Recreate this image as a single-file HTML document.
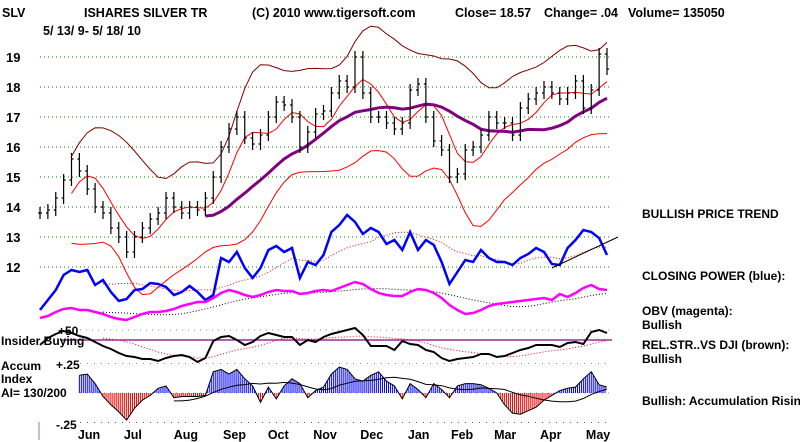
<!DOCTYPE html>
<html><head><meta charset="utf-8">
<style>
body{margin:0;background:#fff;width:800px;height:442px;overflow:hidden}
svg{display:block;font-family:"Liberation Sans",Arial,sans-serif;font-weight:bold}
</style></head><body>
<svg id="chart" width="800" height="442" viewBox="0 0 800 442">
<g font-size="12.5">
<text x="2" y="17">SLV</text>
<text x="84" y="17">ISHARES SILVER TR</text>
<text x="252" y="17">(C) 2010 www.tigersoft.com</text>
<text x="455" y="17">Close=  18.57</text>
<text x="544" y="17">Change= .04</text>
<text x="628" y="17">Volume= 135050</text>
<text x="43" y="35">5/ 13/ 9- 5/ 18/ 10</text>
</g>
<g id="grid"></g><g id="axes" font-size="13"></g>
<g id="marks"></g>
<g font-size="12">
<text x="1" y="345">Insider Buying</text>
<text x="58" y="335">+50</text>
<text x="1" y="370">Accum</text>
<text x="1" y="383">Index</text>
<text x="1" y="397">AI= 130/200</text>
<text x="56" y="369">+.25</text>
<text x="56" y="429">-.25</text>
</g>
<line x1="39" y1="422" x2="39" y2="440" stroke="#886" stroke-width="1"/>
<g font-size="12">
<text x="642" y="218">BULLISH PRICE TREND</text>
<text x="642" y="280">CLOSING POWER (blue):</text>
<text x="642" y="315">OBV (magenta):</text>
<text x="642" y="329">Bullish</text>
<text x="642" y="349">REL.STR..VS DJI (brown):</text>
<text x="642" y="363">Bullish</text>
<text x="642" y="405">Bullish: Accumulation Rising</text>
</g>
</svg>
<script>
const months=["Jun","Jul","Aug","Sep","Oct","Nov","Dec","Jan","Feb","Mar","Apr","May"];
const monthPos=[0.088,0.169,0.257,0.344,0.423,0.503,0.586,0.670,0.746,0.822,0.903,0.984];
const priceTicks=[19,18,17,16,15,14,13,12];
const price=[13.8,13.9,14.3,14.9,15.6,15.2,14.6,14.0,13.8,13.3,13.0,12.5,13.0,13.3,13.6,13.8,14.3,14.0,13.8,14.0,13.9,14.3,15.0,16.0,16.6,17.0,16.3,16.1,16.4,17.0,17.5,17.4,17.0,16.0,16.5,17.1,17.2,17.8,18.2,18.0,19.0,17.8,17.0,17.0,16.8,16.6,16.8,17.9,18.1,17.0,16.2,15.9,15.0,15.1,15.9,16.0,16.4,17.0,16.8,16.8,16.4,17.3,17.6,17.8,18.0,17.8,17.6,17.8,18.2,17.3,17.9,19.1,18.6];
const closingPower=[2,12,22,37,42,40,42,27,32,20,11,13,22,23,29,28,25,17,20,26,20,12,17,54,50,60,44,34,44,62,66,60,64,34,50,47,57,80,87,97,90,78,84,80,68,72,62,80,62,72,67,50,28,40,52,50,62,54,50,50,47,54,58,64,60,48,47,64,72,82,80,74,57];
const obv=[4,6,10,13,14,12,12,10,8,5,3,2,5,8,10,10,11,13,16,18,20,20,24,29,32,30,27,25,27,30,32,31,31,28,29,31,32,31,34,37,40,38,33,29,27,26,26,30,33,32,29,24,17,12,8,9,12,16,18,19,20,21,22,23,24,22,28,25,29,34,37,33,32];
const relStr=[23,30,34,37,35,32,30,26,22,19,15,12,11,9,9,7,10,12,13,11,6,10,27,31,32,28,23,26,32,35,33,31,31,23,28,26,31,34,36,38,40,33,22,22,22,18,27,24,23,18,16,10,7,9,10,11,14,14,11,12,15,18,20,23,23,23,21,25,26,24,36,38,35];
const accum=[0,0,0,0,0,0.15,0.16,0.08,-0.03,-0.10,-0.16,-0.23,-0.13,-0.06,-0.02,0.04,0.06,-0.04,-0.03,-0.03,-0.03,-0.02,0.18,0.20,0.16,0.20,0.12,0.06,-0.08,0.05,-0.05,0.06,0.12,0.08,-0.04,0.02,0.05,0.16,0.22,0.20,0.12,0.10,0.15,0.18,0.10,0.06,-0.05,0.08,0.03,-0.04,0.08,0.03,-0.04,0.06,0.08,0.08,0.07,0.04,0.00,-0.10,-0.17,-0.18,-0.15,-0.12,-0.06,-0.02,0.02,0.04,0.05,0.12,0.18,0.07,0.05];
const NS="http://www.w3.org/2000/svg";
const X0=40,X1=607;
const xs=i=>X0+(X1-X0)*i/(price.length-1);
const yPrice=p=>57+(19-p)*30;
const yCP=v=>312-v;
const yOBV=v=>322-v;
const yRS=v=>368-v;
const yAcc=v=>393-v*118;
function el(tag,attrs,parent){const e=document.createElementNS(NS,tag);for(const k in attrs)e.setAttribute(k,attrs[k]);(parent||document.getElementById('marks')).appendChild(e);return e;}
function sma(a,n){return a.map((v,i)=>{const s=a.slice(Math.max(0,i-n+1),i+1);return s.reduce((p,c)=>p+c,0)/s.length;});}
function std(a,n){const m=sma(a,n);return a.map((v,i)=>{const s=a.slice(Math.max(0,i-n+1),i+1);return Math.sqrt(s.reduce((p,c)=>p+(c-m[i])**2,0)/s.length);});}
function pathOf(arr,fy,start){let d="";arr.forEach((v,i)=>{if(i<(start||0))return;d+=(d?"L":"M")+xs(i).toFixed(1)+","+fy(v).toFixed(1);});return d;}
const grid=document.getElementById('grid'),axes=document.getElementById('axes');
priceTicks.forEach(t=>{
 const g=el('line',{x1:40,x2:612,y1:yPrice(t),y2:yPrice(t),stroke:'#080','stroke-dasharray':'1,3','stroke-width':1},grid);
 
 
 const tx=el('text',{x:6,y:yPrice(t)+5},axes);tx.textContent=t;
 
 
});
[[340,'#800080',1.2,'none'],[330,'#888',1,'1,5'],[yAcc(0),'#888',1,'1,5'],[yAcc(-0.25),'#c33',1,'1,6'],[yAcc(0.25),'#888',1,'1,6']].forEach((r,k)=>{
 const l=el('line',{x1:k==0?60:80,x2:612,y1:r[0],y2:r[0],stroke:r[1],'stroke-width':r[2],'stroke-dasharray':r[3]},grid);
 
 
});
months.forEach((m,i)=>{const t=el('text',{x:X0+(X1-X0)*monthPos[i]-12,y:439,'font-size':'12.5'},axes);t.textContent=m;
 
 });
// bands
const mid=sma(sma(price,4),2);
const c=sma(sma(price,6),3),sd=sma(std(price,8),4);
const bands=[[c.map((v,i)=>v+0.9+1.6*sd[i]),'#800000'],[mid,'#f00'],[c.map((v,i)=>v-0.9-1.6*sd[i]),'#f00']];
bands.forEach(b=>{const p=el('path',{d:pathOf(b[0],yPrice,4),fill:'none',stroke:b[1],'stroke-width':1});
 
 });
const ma50=sma(price,16);
const mp=el('path',{d:pathOf(ma50,yPrice,21),fill:'none',stroke:'#800080','stroke-width':3});


price.forEach((p,i)=>{const x=xs(i),prev=i?price[i-1]:p;const hi=Math.max(p,prev)+0.2,lo=Math.min(p,prev)-0.2;
 const b=el('path',{d:`M${x},${yPrice(hi)}V${yPrice(lo)}M${x-2},${yPrice(prev)}H${x}M${x},${yPrice(p)}H${x+2}`,stroke:'#000','stroke-width':1.2,fill:'none'});
 
 });
// closing power
const cpMa=el('path',{d:pathOf(sma(closingPower,10),yCP,8),fill:'none',stroke:'#f00','stroke-dasharray':'1,2'});


const cp=el('path',{d:pathOf(closingPower,yCP),fill:'none',stroke:'#00f','stroke-width':2.5});


const tl=el('line',{x1:xs(65),y1:yCP(closingPower[65])+4,x2:618,y2:237,stroke:'#000','stroke-width':1});


const obvMa=el('path',{d:pathOf(sma(obv,10),yOBV,8),fill:'none',stroke:'#000','stroke-dasharray':'1,2'});


const ob=el('path',{d:pathOf(obv,yOBV),fill:'none',stroke:'#f0f','stroke-width':2.5});


const rsMa=el('path',{d:pathOf(sma(relStr,10),yRS,8),fill:'none',stroke:'#f00','stroke-dasharray':'1,2'});


const rs=el('path',{d:pathOf(relStr,yRS),fill:'none',stroke:'#000','stroke-width':2});


// accumulation histogram
for(let i=6;i<accum.length;i++){const n=4;for(let k=0;k<n;k++){const t=k/n;const v=accum[i-1]+(accum[i]-accum[i-1])*t;const x=xs(i-1)+(xs(i)-xs(i-1))*t;
 const h=el('line',{x1:x,x2:x,y1:yAcc(0),y2:yAcc(v),stroke:v>=0?'#00f':'#f00','stroke-width':1});
 
 }}
const ac=el('path',{d:pathOf(accum,yAcc,5),fill:'none',stroke:'#000','stroke-width':1});


const am=el('path',{d:pathOf(sma(accum,10),yAcc,17),fill:'none',stroke:'#000','stroke-width':1});


</script>
</body></html>
